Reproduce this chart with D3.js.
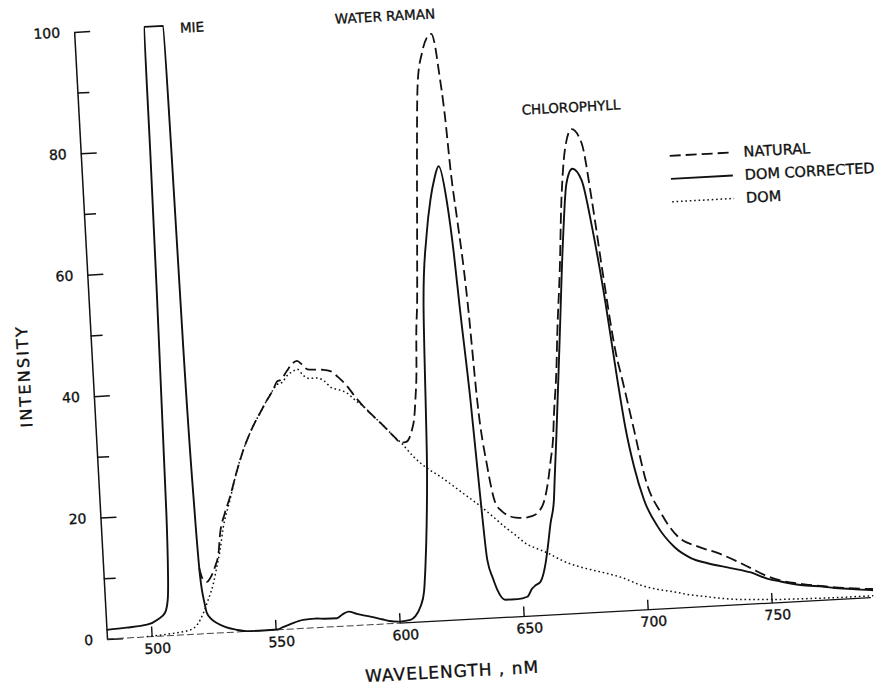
<!DOCTYPE html>
<html>
<head>
<meta charset="utf-8">
<script src="https://cdn.jsdelivr.net/npm/d3@7"></script>
<style>
  body { margin: 0; background: #fff; }
  text { font-family: "DejaVu Sans", sans-serif; fill: #111; stroke: #111; stroke-width: 0.35px; }
</style>
</head>
<body>
<script>
// Emission spectra, [wavelength nm, intensity]
const natural = [
  [520.6, 10.8], [521.8, 9.0], [523.4, 8.5], [525, 9.2], [527, 10.9], [528.7, 13.1],
  [529.8, 16.4], [532, 19.5], [534.6, 22.3], [537.5, 26], [541, 29.9], [544.5, 33],
  [548.5, 35.8], [551.5, 37.8], [554.3, 39.5], [556, 40.8], [557.5, 41.0], [560.1, 42.4],
  [562.5, 43.6], [564.4, 44.0], [566.5, 43.3], [568.5, 42.5], [571, 42.4], [574.5, 42.3],
  [577.6, 42.0], [580.5, 41], [584, 39.4], [587, 37.6], [590.2, 35.9], [594, 34.2],
  [597.9, 32.5], [602, 30.6], [604.5, 29.6], [606.5, 29.7], [608, 30.4], [609.2, 31.7],
  [610.3, 33.5], [611.2, 36.6], [612.2, 41], [613, 47.5], [614, 52.5], [615, 60],
  [615.8, 66.2], [617.2, 77.1], [618.9, 88.1], [621.4, 93.5], [623.5, 95.8], [625.5, 96.5],
  [626.8, 94.5], [627.7, 90.6], [629.3, 82.4], [630.3, 74.1], [631.9, 65.8], [633.5, 57.5],
  [634.3, 52.0], [636, 36], [638.6, 25], [641.1, 18.9], [643.5, 17.5], [645.6, 16.8],
  [649, 16.3], [652.2, 16.2], [655.5, 16.4], [658.4, 17.1], [660.5, 18.5], [662.3, 21.1],
  [664.3, 25.5], [665.7, 29.0], [666.5, 32.6], [668.5, 40.1], [669.7, 46.3], [672.1, 56.8],
  [674.2, 67.9], [676.7, 76.2], [679.9, 79.6], [683.6, 77.2], [686.5, 67.6], [689.1, 56.4],
  [692.8, 42.4], [694.8, 38.0], [698.4, 29.7], [702, 21.4], [707.4, 15.8], [713.6, 11.8],
  [721.4, 9.95], [729.3, 8.7], [737.2, 7.1], [742.4, 5.9], [749, 4.4], [755, 3.5],
  [762, 2.9], [771, 2.3], [780, 1.8], [791, 1.4]
];

const domCorrected = [
  [482, 1.5], [490, 1.7], [498.4, 2.0], [503, 2.8], [505.9, 3.8], [507.3, 6], [507.9, 9.7],
  [508.6, 20], [509.4, 50], [510, 80], [510.2, 100.2], [518, 100.2], [518.5, 80], [519, 47.3],
  [520, 20], [520.8, 9.4], [522, 5], [522.7, 3.4], [524.5, 2.3], [526.5, 1.66], [530, 0.9],
  [534, 0.4], [538.2, 0.05], [545, 0], [550.9, 0.05], [553, 0.4], [556, 0.8], [561.3, 1.4],
  [566, 1.5], [570, 1.4], [574.9, 1.37], [577, 1.9], [579.7, 2.35], [583, 1.9], [588.4, 1.33],
  [593, 0.8], [596, 0.45], [600.3, 0.25], [604.4, 0.43], [606.5, 1.0], [608.7, 2.5],
  [610.5, 5], [611.6, 9.1], [613, 16], [614.4, 25.5], [616.5, 51.8], [619.2, 63.3],
  [621.6, 69.3], [623.5, 72.5], [625.6, 74.7], [628.2, 68.6], [629.8, 60.4], [631, 51.5],
  [633.3, 36.1], [635.2, 19.6], [636.6, 9.6], [638.5, 6.5], [640, 4.6], [643, 2.9],
  [648, 2.9], [651.9, 3.2], [654, 4.5], [655.5, 5.0], [657.6, 5.6], [660, 8.6], [661, 10.7],
  [662.8, 15], [664.7, 18.9], [665.5, 22.5], [667, 29.0], [670.6, 45.7], [674.2, 62.3],
  [676.6, 70.7], [679.3, 73.1], [682.8, 71.1], [686, 63.2], [689.7, 50.8], [692.8, 38.1],
  [695.1, 29.8], [697.6, 23.7], [700.9, 18.1], [705.8, 13.6], [712, 10.1], [718.5, 8.1],
  [725.1, 7.1], [734.3, 6.1], [742.3, 5.2], [749, 4.0], [754, 3.45], [762, 2.7],
  [771.5, 2.2], [776, 1.9], [784, 1.5], [791, 1.2]
];

const dom = [
  [498, 0.05], [503, 0.15], [510, 0.4], [515.6, 0.74], [518.5, 1.5], [521.3, 3.4],
  [523.5, 5.5], [526, 8.2], [527.8, 11], [529.4, 13.6], [531, 17], [534.5, 21.8],
  [537.5, 26], [541, 29.9], [544.5, 33], [548.5, 35.8], [551.5, 37.8], [554.3, 39.5],
  [556, 40.3], [558, 40.6], [560.5, 41.8], [562.5, 42.3], [564.4, 42.6], [566.5, 41.6],
  [569, 41.0], [572, 41.0], [575, 40.4], [577.6, 39.3], [580.5, 38.9], [584, 38.2],
  [587, 37], [590.2, 35.9], [594, 34.2], [597.9, 32.5], [602, 30.6], [604.5, 29.6],
  [609, 27.3], [614.4, 25.2], [619.6, 23.7], [624.7, 22.0], [630, 20.2], [635, 18.5],
  [640, 16.6], [644, 15.0], [648, 13.6], [653, 11.8], [657, 11.0], [661, 10.2], [666, 9.0],
  [670, 8.2], [673.9, 7.6], [677.9, 7.1], [684.6, 6.3], [691, 5.4], [697.7, 4.1],
  [704, 3.3], [711, 2.7], [717, 2.1], [724.4, 1.6], [730, 1.2], [737.7, 0.85], [744, 0.7],
  [751, 0.55], [760, 0.45], [771, 0.35], [780, 0.3], [791, 0.3]
];

const xTicks = [500, 550, 600, 650, 700, 750];
const yTicks = [0, 20, 40, 60, 80, 100];
const yMinorTicks = [10, 30, 50, 70, 90];

// peak names with the [wavelength, intensity] where their text starts
const peakLabels = [
  { name: "MIE", at: [524.6, 98.9] },
  { name: "WATER RAMAN", at: [587.1, 99.0] },
  { name: "CHLOROPHYLL", at: [660.2, 82.4] }
];
const legendNames = ["NATURAL", "DOM CORRECTED", "DOM"];

const width = 883, height = 692;

const svg = d3.select("body").append("svg")
  .attr("width", width)
  .attr("height", height);

// the scanned figure sits a little rotated on the page
const g = svg.append("g")
  .attr("transform", "translate(107,639) rotate(-3.1)");

const x = d3.scaleLinear().domain([482, 792]).range([0, 770]);
const y = d3.scaleLinear().domain([0, 100]).range([0, -608]);

// y axis: line + inside ticks, labels on the left
g.append("g")
  .call(d3.axisRight(y).tickValues(yTicks).tickSize(16).tickSizeOuter(0).tickFormat(""))
  .call(s => s.selectAll("line, path").attr("stroke", "#111").attr("stroke-width", 1.5));
g.append("g")
  .call(d3.axisRight(y).tickValues(yMinorTicks).tickSize(12).tickFormat(""))
  .call(s => s.select(".domain").remove())
  .call(s => s.selectAll("line").attr("stroke", "#111").attr("stroke-width", 1.5));
g.append("g")
  .call(d3.axisLeft(y).tickValues(yTicks).tickSize(0).tickPadding(14))
  .call(s => s.select(".domain").remove())
  .call(s => s.selectAll("text").attr("font-size", 14).attr("font-family", "DejaVu Sans"));

// x axis: faint dashed at the left, solid further on
g.append("line")
  .attr("x1", x(482)).attr("x2", x(600)).attr("y1", 0).attr("y2", 0)
  .attr("stroke", "#444").attr("stroke-width", 1).attr("stroke-dasharray", "7,3");
g.append("line")
  .attr("x1", x(600)).attr("x2", x(790)).attr("y1", 0).attr("y2", 0)
  .attr("stroke", "#111").attr("stroke-width", 1.3);
g.append("g")
  .call(d3.axisTop(x).tickValues(xTicks).tickSize(10).tickFormat(""))
  .call(s => s.select(".domain").remove())
  .call(s => s.selectAll("line").attr("stroke", "#111").attr("stroke-width", 1.4));
g.append("g")
  .call(d3.axisBottom(x).tickValues(xTicks).tickSize(0).tickPadding(7))
  .call(s => s.select(".domain").remove())
  .call(s => s.selectAll("text").attr("font-size", 14).attr("font-family", "DejaVu Sans").attr("dx", 5));

// curves
const line = d3.line()
  .x(d => x(d[0]))
  .y(d => y(d[1]))
  .curve(d3.curveMonotoneX);

const series = [
  { data: dom, dash: "1.6,2.8", w: 1.5 },
  { data: natural, dash: "11,5", w: 1.8 },
  { data: domCorrected, dash: null, w: 1.9 }
];
series.forEach(s => {
  g.append("path")
    .datum(s.data)
    .attr("d", line)
    .attr("fill", "none")
    .attr("stroke", "#111")
    .attr("stroke-width", s.w)
    .attr("stroke-dasharray", s.dash)
    .attr("stroke-linejoin", "round");
});

// peak names
g.selectAll(".peak")
  .data(peakLabels)
  .enter().append("text")
  .attr("class", "peak")
  .attr("x", d => x(d.at[0]))
  .attr("y", d => y(d.at[1]))
  .attr("font-size", 13.5)
  .text(d => d.name);

// legend, drawn in the same tilted frame
const legendStyle = [
  { dash: "11,5", w: 1.8 },
  { dash: null, w: 1.9 },
  { dash: "1.6,2.8", w: 1.5 }
];
const legend = g.append("g").attr("transform", "translate(588,-452)");
legendNames.forEach((name, i) => {
  const row = legend.append("g").attr("transform", `translate(0,${i * 23})`);
  row.append("line")
    .attr("x1", 0).attr("x2", 62)
    .attr("stroke", "#111")
    .attr("stroke-width", legendStyle[i].w)
    .attr("stroke-dasharray", legendStyle[i].dash);
  row.append("text")
    .attr("x", 74).attr("y", 5)
    .attr("font-size", 14.5)
    .text(name);
});

// axis titles
g.append("text")
  .attr("x", x(620)).attr("y", 57)
  .attr("text-anchor", "middle")
  .attr("font-size", 17)
  .attr("letter-spacing", 1)
  .text("WAVELENGTH , nM");

g.append("text")
  .attr("transform", `translate(-63,${y(43.9)}) rotate(-90)`)
  .attr("text-anchor", "middle")
  .attr("font-size", 16)
  .attr("letter-spacing", 2.2)
  .text("INTENSITY");
</script>
</body>
</html>
